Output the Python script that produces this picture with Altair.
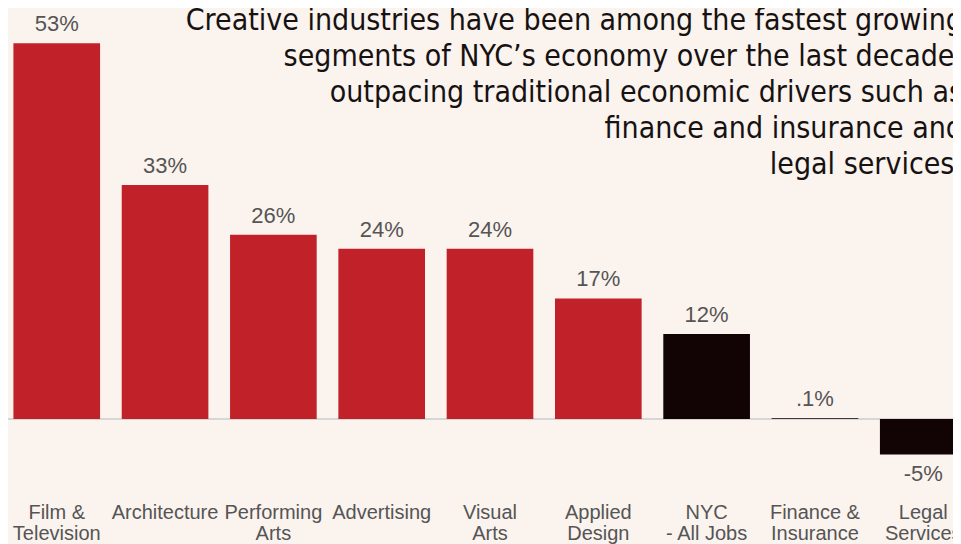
import altair as alt
import pandas as pd

categories = ["Film &\nTelevision", "Architecture", "Performing\nArts", "Advertising",
              "Visual\nArts", "Applied\nDesign", "NYC\n- All Jobs",
              "Finance &\nInsurance", "Legal\nServices"]
values = [53, 33, 26, 24, 24, 17, 12, 0.1, -5]
value_labels = ["53%", "33%", "26%", "24%", "24%", "17%", "12%", ".1%", "-5%"]
groups = ["Creative"] * 6 + ["Benchmark"] * 3
annotation_lines = [
    "Creative industries have been among the fastest growing",
    "segments of NYC\u2019s economy over the last decade,",
    "outpacing traditional economic drivers such as",
    "finance and insurance and",
    "legal services.",
]

df = pd.DataFrame({"category": categories, "value": values,
                   "label": value_labels, "group": groups})

BG = "#fbf3ee"
RED = "#c1222a"
DARK = "#120405"
YDOM = [-11.42, 57.97]

x = alt.X("category:N", sort=categories,
          scale=alt.Scale(range=[0, 964], paddingInner=0.2, paddingOuter=0.05),
          axis=alt.Axis(title=None, labelExpr="split(datum.label, '\\n')", labelAngle=0,
                        domain=False, ticks=False, labelPadding=2, labelFontSize=20,
                        labelFont="Liberation Sans", labelColor="#555555",
                        labelLineHeight=21, labelBaseline="top", labelOverlap=False,
                        labelBound=False, labelLimit=300))
y = alt.Y("value:Q", scale=alt.Scale(domain=YDOM, nice=False, zero=False), axis=None)

base = alt.Chart(df)

zero = alt.Chart(pd.DataFrame({"z": [0]})).mark_rule(color="#d6d6d6", strokeWidth=2).encode(
    y=alt.Y("z:Q", scale=alt.Scale(domain=YDOM, nice=False, zero=False), axis=None),
    x=alt.value(-8), x2=alt.value(960))

bars = base.mark_bar().encode(
    x=x, y=y,
    color=alt.Color("group:N", scale=alt.Scale(domain=["Creative", "Benchmark"], range=[RED, DARK]),
                    legend=None))

pos_labels = base.transform_filter("datum.value >= 0").mark_text(
    baseline="alphabetic", dy=-12, fontSize=22, font="Liberation Sans", color="#555555").encode(
    x=x, y=y, text="label:N")
neg_labels = base.transform_filter("datum.value < 0").mark_text(
    baseline="alphabetic", dy=27, fontSize=22, font="Liberation Sans", color="#555555").encode(
    x=x, y=y, text="label:N")

annotation = alt.Chart(pd.DataFrame({"a": [0]})).mark_text(
    text=annotation_lines, align="right", baseline="alphabetic", lineHeight=36,
    fontSize=30, font="DejaVu Sans Condensed, Liberation Sans Narrow, Liberation Sans",
    color="#161212").encode(x=alt.value(955), y=alt.value(22))

chart = alt.layer(zero, bars, pos_labels, neg_labels, annotation).properties(
    width=945, height=492, background=BG,
    autosize=alt.AutoSizeParams(type="none"),
    padding={"left": 0, "top": 0, "right": 0, "bottom": 44},
).configure_view(stroke=None)

chart.save("out.html", embed_options={"renderer": "svg", "actions": False})
